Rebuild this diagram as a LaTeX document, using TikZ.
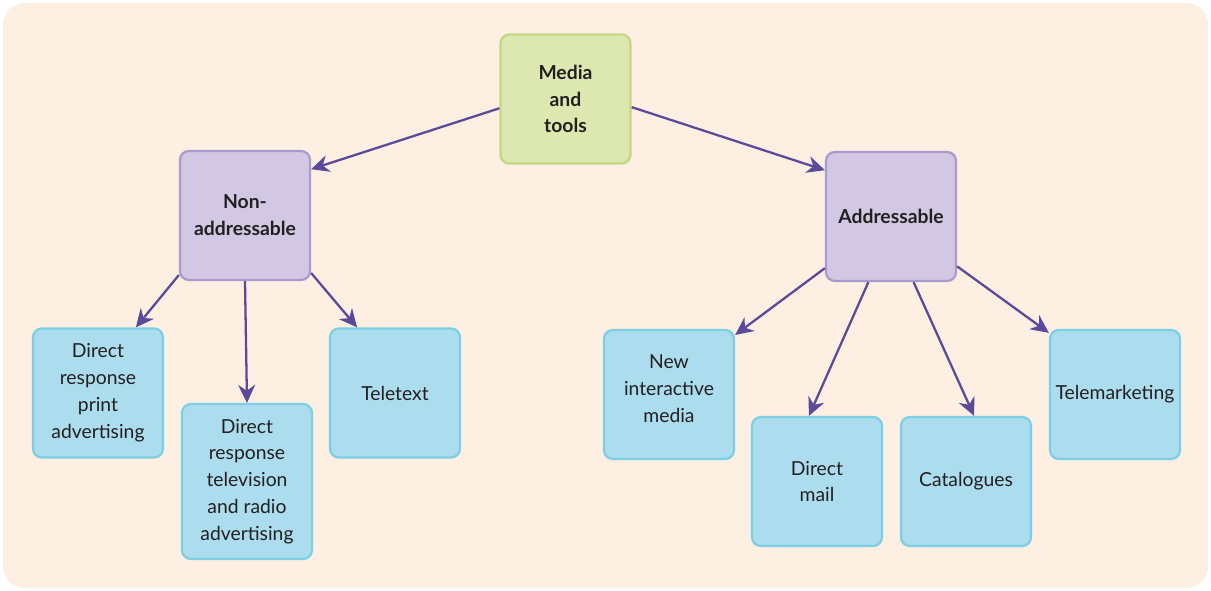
\documentclass[tikz,border=0pt]{standalone}
\usepackage{fontspec}
\setmainfont{Lato}
\usepackage{tikz}
\usetikzlibrary{arrows.meta, positioning, calc}
\definecolor{bgpeach}{HTML}{FDF0E2}
\definecolor{rootfill}{HTML}{DDE8B0}
\definecolor{rootdraw}{HTML}{C2D884}
\definecolor{midfill}{HTML}{D3C8E3}
\definecolor{middraw}{HTML}{A99BCF}
\definecolor{leaffill}{HTML}{ABDDEF}
\definecolor{leafdraw}{HTML}{7DD0E3}
\definecolor{arrowcol}{HTML}{5B4A9B}
\definecolor{textcol}{HTML}{231F20}

\begin{document}
\begin{tikzpicture}[
        x=0.02cm, y=-0.02cm,
        box/.style={rounded corners=5pt, line width=1.3pt, align=center, minimum width=2.6cm, minimum height=2.58cm,
            inner sep=1pt, text=textcol, font=\fontsize{11}{15.3}\selectfont},
        root/.style={box, fill=rootfill, draw=rootdraw, font=\fontsize{11}{15.3}\selectfont\bfseries},
        mid/.style={box, fill=midfill, draw=middraw, font=\fontsize{11}{15.3}\selectfont\bfseries},
        leaf/.style={box, fill=leaffill, draw=leafdraw},
        arr/.style={line width=1.3pt, draw=arrowcol, -{Stealth[length=3.6mm, width=3.4mm]}}
    ]
        \useasboundingbox (0,0) rectangle (1211,591);
        \fill[bgpeach, rounded corners=12pt] (3,3) rectangle (1208,588);

        \node[root] (media) at (565.5,99) {Media\\and\\tools};
        \node[mid] (nonaddr) at (245,215.5) {Non-\\addressable};
        \node[mid] (addr) at (891,216.5) {Addressable};

        \node[leaf] (print) at (98,393) {Direct\\response\\print\\advertising};
        \node[leaf, minimum height=3.1cm] (tv) at (247,481.5) {Direct\\response\\television\\and radio\\advertising};
        \node[leaf] (teletext) at (395,393) {Teletext};

        \node[leaf] (newmedia) at (669,394.5) {New\\interactive\\media\\[-8.5pt]\mbox{}};
        \node[leaf] (mail) at (817,481.5) {Direct\\mail};
        \node[leaf] (cat) at (966,481.5) {Catalogues};
        \node[leaf] (tele) at (1115,394.5) {Telemarketing};

        \draw[arr] (media.188) -- (nonaddr.35);
        \draw[arr] (media.-7) -- (addr.145);

        \draw[arr] (nonaddr.-138) -- (print.60);
        \draw[arr] (nonaddr.south) -- (tv.north);
        \draw[arr] (nonaddr.-41) -- (teletext.120);

        \draw[arr] (addr.-142) -- (newmedia.42);
        \draw[arr] (addr.-109) -- (mail.97);
        \draw[arr] (addr.-71) -- (cat.83);
        \draw[arr] (addr.-37) -- (tele.137);
    \end{tikzpicture}
\end{document}
